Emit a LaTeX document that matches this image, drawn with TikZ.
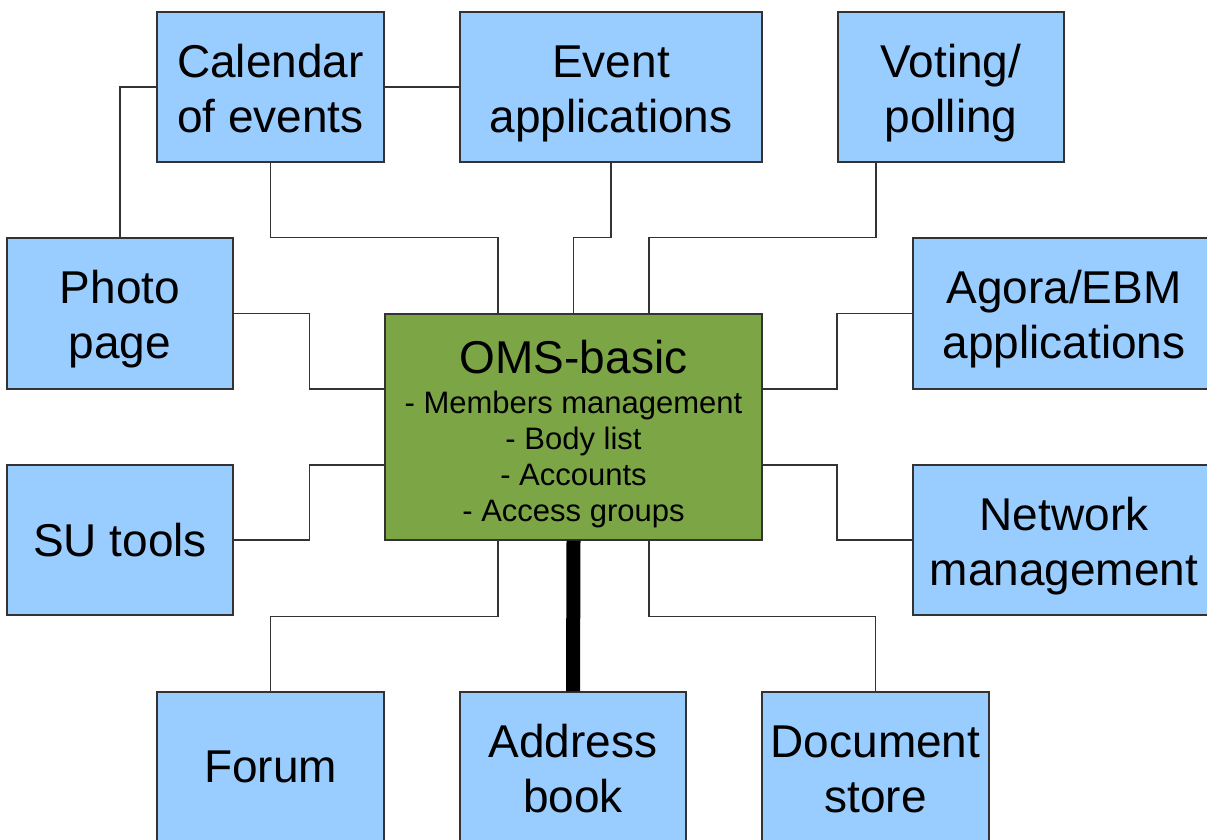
\documentclass[tikz,border=0pt]{standalone}
\usepackage{fontspec}
\setmainfont{Liberation Sans}
\usetikzlibrary{calc}
\definecolor{boxblue}{HTML}{99CCFF}
\definecolor{omsgreen}{HTML}{7CA646}
\definecolor{edge}{HTML}{333333}
\newcommand\mtwo[2]{\raisebox{-6.5pt}[\height][\depth]{\begin{tabular}{@{}c@{}}#1\\#2\end{tabular}}}
\tikzset{
  module/.style={draw=edge, line width=1.2pt, fill=boxblue, inner sep=0pt,
    font=\fontsize{46}{55}\selectfont},
  core/.style={draw=edge, line width=1.2pt, fill=omsgreen, inner sep=0pt,
    font=\fontsize{31}{36}\selectfont, minimum width=377pt, minimum height=226pt},
  link/.style={draw=edge, line width=1.2pt},
  mainlink/.style={draw=black, line width=14pt},
}
\begin{document}
\begin{tikzpicture}[x=1pt, y=-1pt]
\useasboundingbox (0,0) rectangle (1207,839);
\clip (0,0) rectangle (1207,839);
\fill[white] (0,0) rectangle (1207,839);

\node[core] (oms) at (573.5,427) {\raisebox{-8.75pt}[\height][\depth]{\begin{tabular}{@{}c@{}}{\fontsize{46}{55}\selectfont OMS-basic}\\[4pt]- Members management\\- Body list\\- Accounts\\- Access groups\end{tabular}}};

\node[module, minimum width=227pt, minimum height=150pt] (cal) at (270.5,87) {\mtwo{Calendar}{of events}};
\node[module, minimum width=302pt, minimum height=150pt] (evt) at (611,87) {\mtwo{Event}{applications}};
\node[module, minimum width=226pt, minimum height=150pt] (vot) at (951,87) {\mtwo{Voting/}{polling}};
\node[module, minimum width=226pt, minimum height=151pt] (pho) at (120,313.5) {\mtwo{Photo}{page}};
\node[module, minimum width=302pt, minimum height=151pt] (ago) at (1064,313.5) {\mtwo{Agora/EBM}{applications}};
\node[module, minimum width=226pt, minimum height=150pt] (su) at (120,540) {SU tools};
\node[module, minimum width=302pt, minimum height=150pt] (net) at (1064,540) {\mtwo{Network}{management}};
\node[module, minimum width=227pt, minimum height=150pt] (for) at (270.5,767) {Forum};
\node[module, minimum width=226pt, minimum height=150pt] (adr) at (573,767) {\mtwo{Address}{book}};
\node[module, minimum width=227pt, minimum height=150pt] (doc) at (875.5,767) {\mtwo{Document}{store}};

\coordinate (otl) at ([xshift=-75.5pt]oms.north);
\coordinate (otr) at ([xshift=75.5pt]oms.north);
\coordinate (obl) at ([xshift=-75.5pt]oms.south);
\coordinate (obr) at ([xshift=75.5pt]oms.south);
\coordinate (owt) at ([yshift=38pt]oms.west);
\coordinate (owb) at ([yshift=-38pt]oms.west);
\coordinate (oet) at ([yshift=38pt]oms.east);
\coordinate (oeb) at ([yshift=-38pt]oms.east);
\coordinate (vtap) at ([xshift=-75pt]vot.south);

\draw[link] (cal.west) -| (pho.north);
\draw[link] (cal.east) -- (evt.west);
\draw[link] (cal.south) |- (otl |- pho.north) -- (otl);
\draw[link] (evt.south) |- (oms.north |- pho.north) -- (oms.north);
\draw[link] (vtap) |- (otr |- pho.north) -- (otr);
\draw[link] (pho.east) -- ++(76,0) |- (owt);
\draw[link] (ago.west) -- ++(-75.5,0) |- (oet);
\draw[link] (su.east) -- ++(76,0) |- (owb);
\draw[link] (net.west) -- ++(-75.5,0) |- (oeb);
\draw[link] (for.north) |- ($(obl)+(0,76)$) -- (obl);
\draw[link] (doc.north) |- ($(obr)+(0,76)$) -- (obr);
\draw[mainlink] (oms.south) -- (adr.north);
\end{tikzpicture}
\end{document}
